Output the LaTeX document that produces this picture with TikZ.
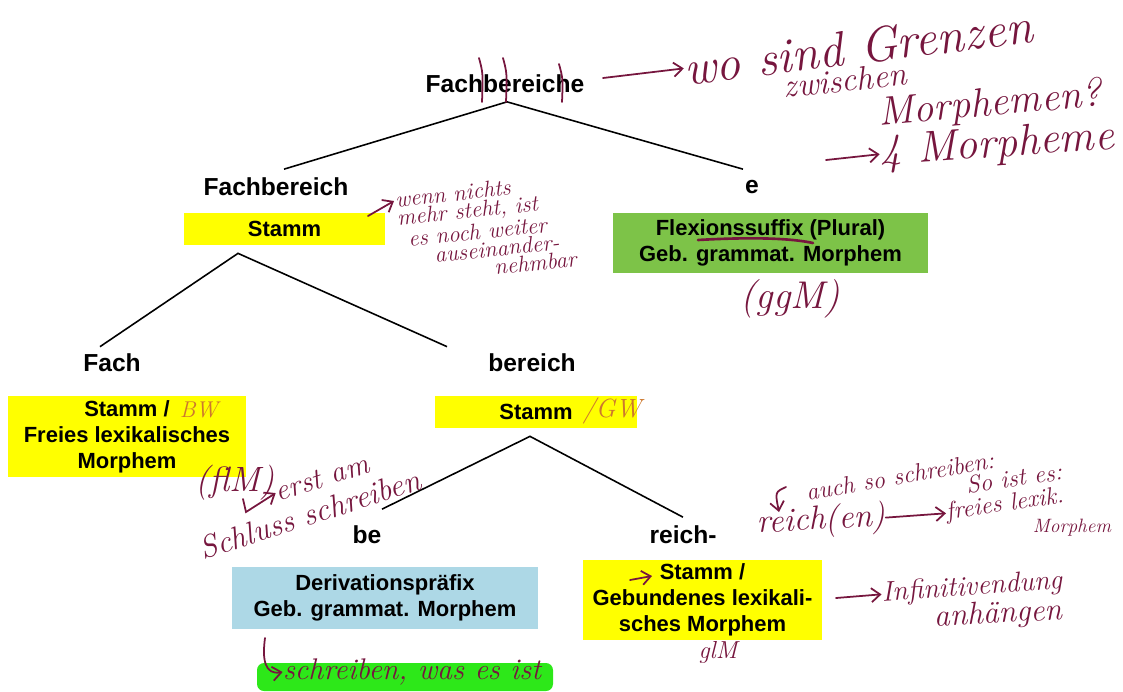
\documentclass[tikz,border=0pt]{standalone}
\usepackage{fontspec}
\setsansfont{Liberation Sans}
\usetikzlibrary{positioning, arrows.meta}
\definecolor{ink}{RGB}{118,22,62}
\definecolor{penorange}{RGB}{205,120,45}
\definecolor{boxyellow}{RGB}{255,255,0}
\definecolor{boxgreen}{RGB}{125,195,72}
\definecolor{boxblue}{RGB}{173,216,230}
\definecolor{marker}{RGB}{45,232,25}
\newcommand{\hand}[1]{\fontsize{#1}{#1}\selectfont\itshape}

\begin{document}
\begin{tikzpicture}[x=0.02cm, y=-0.02cm, >=latex,
  word/.style={font=\sffamily\bfseries\fontsize{14}{16}\selectfont, inner sep=0pt, minimum height=0.7cm},
  morph/.style={font=\sffamily\bfseries\fontsize{12.5}{14.7}\selectfont, align=center, inner sep=0pt},
  note/.style={text=ink, inner sep=0pt},
  pen/.style={ink, line width=1pt, line cap=round},
  penarrow/.style={pen, -{Straight Barb[length=5pt,width=8pt]}}]

\useasboundingbox (0,0) rectangle (1123,691);

% the tree
\node[word] (root) at (505,84) {Fachbereiche};
\node[word] (fb) at (276,187) {Fachbereich};
\node[word] (e) at (752,187) {e};
\node[morph, fill=boxyellow, minimum width=4.02cm, minimum height=0.64cm] (stamm1) at (284.5,229) {Stamm};
\node[morph, fill=boxgreen, minimum width=6.3cm, minimum height=1.2cm] (flex) at (770.5,243) {Flexionssuffix (Plural)\\Geb. grammat. Morphem};
\node[word] (fach) at (112,363) {Fach};
\node[word] (bereich) at (532,363) {bereich};
\node[morph, fill=boxyellow, minimum width=4.76cm, minimum height=1.62cm] (stamm2) at (127,436.5) {Stamm /\\Freies lexikalisches\\Morphem};
\node[morph, fill=boxyellow, minimum width=4.04cm, minimum height=0.64cm] (stamm3) at (536,412) {Stamm};
\node[word] (be) at (367,535) {be};
\node[word] (reich) at (683,535) {reich-};
\node[morph, fill=boxblue, minimum width=6.12cm, minimum height=1.24cm] (deriv) at (385,598) {Derivationspräfix\\Geb. grammat. Morphem};
\node[morph, fill=boxyellow, minimum width=4.78cm, minimum height=1.6cm] (stamm4) at (702.5,600) {Stamm /\\Gebundenes lexikali-\\sches Morphem};

\coordinate (fork1) at ([xshift=-0.93cm,yshift=-0.16cm]stamm1.south);
\coordinate (fork2) at ([xshift=-0.12cm,yshift=-0.16cm]stamm3.south);

\draw[line width=0.9pt] ([xshift=0.16cm]fb.north) -- ([xshift=0.04cm]root.south) -- ([xshift=-0.18cm]e.north);
\draw[line width=0.9pt] ([xshift=-0.24cm,yshift=-0.03cm]fach.north) -- (fork1) -- ([xshift=-1.7cm,yshift=-0.03cm]bereich.north);
\draw[line width=0.9pt] ([xshift=0.3cm,yshift=0.16cm]be.north) -- (fork2) -- (reich.north);

% pen notes
\foreach \sx/\sy in {479/58,503/58,559/64}
  \draw[pen] (\sx,\sy) .. controls (\sx+4,\sy+15) .. (\sx+3,102);

\coordinate (t1) at (603,78);
\node[note, font=\hand{28}, rotate=7] (grenz) at (858,47) {wo sind Grenzen};
\node[note, font=\hand{19}, rotate=6] (zw) at (845,80) {zwischen};
\node[note, font=\hand{23}, rotate=5] (morphq) at (990,105) {Morphemen?};
\node[note, font=\hand{25}, rotate=4] (vier) at (997,146) {4 Morpheme};
\coordinate (t2) at (826,160);
\draw[penarrow] (t1) -- (grenz.west);
\draw[penarrow] (t2) -- (vier.west);

\coordinate (b1) at (368,216);
\node[note, font={\fontsize{13}{10.6}\selectfont\itshape}, align=left, rotate=6, anchor=north west] (wenn) at (394,191)
  {wenn nichts\\mehr steht, ist\\\hspace*{5pt}es noch weiter\\\hspace*{19pt}auseinander-\\\hspace*{52pt}nehmbar};
\draw[penarrow] (b1) -- ([yshift=-0.2cm]wenn.north west);

\draw[pen, line width=1.5pt] (698,240) .. controls (750,237) and (790,238) .. (813,243);
\node[note, font=\hand{22}] (ggm) at (790,299) {(ggM)};

\node[note, text=penorange, font=\hand{13}] (bw) at (199,410) {BW};
\node[note, font=\hand{20}] (flm) at (235,483) {(flM)};
\node[note, font=\hand{17}, rotate=18] (erst) at (322,478) {erst am};
\node[note, font=\hand{18}, rotate=18] (schluss) at (310,514) {Schluss schreiben};
\coordinate (c1) at (243,499);
\draw[penarrow] (c1) -- (246,512) -- (erst.west);

\node[note, text=penorange, font=\hand{15}] (gw) at (612,411) {/GW};

\node[note, font=\hand{14}, rotate=10] (auch) at (900,476) {auch so schreiben:};
\node[note, font=\hand{14}, rotate=8] (soist) at (1014,478) {So ist es:};
\coordinate (h1) at (786,487);
\draw[penarrow] (h1) .. controls (775,492) .. (779,512);
\node[note, font=\hand{19}, rotate=3] (reichen) at (821,521) {reich(en)};
\node[note, font=\hand{14}, rotate=8] (freies) at (1005,505) {freies lexik.};
\node[note, font=\hand{11}] (morph2) at (1072,528) {Morphem};
\draw[penarrow] (reichen.east) -- (freies.west);

\coordinate (s1) at (630,580);
\coordinate (s2) at (652,576);
\draw[penarrow] (s1) -- (s2);
\node[note, font=\hand{14}] (glm) at (718,652) {glM};

\coordinate (i1) at (836,598);
\node[note, font=\hand{16}, rotate=4] (infin) at (972,588) {Infinitivendung};
\node[note, font=\hand{18}, rotate=3] (anh) at (998,615) {anhängen};
\draw[penarrow] (i1) -- (infin.west);

\fill[marker, rounded corners=4pt] (257,663) rectangle (553,691);
\node[note, font=\hand{17}] (was) at (412,672) {schreiben, was es ist};
\coordinate (w1) at (265,638);
\draw[penarrow] (w1) .. controls (262,660) and (265,675) .. (was.west);

\end{tikzpicture}
\end{document}
